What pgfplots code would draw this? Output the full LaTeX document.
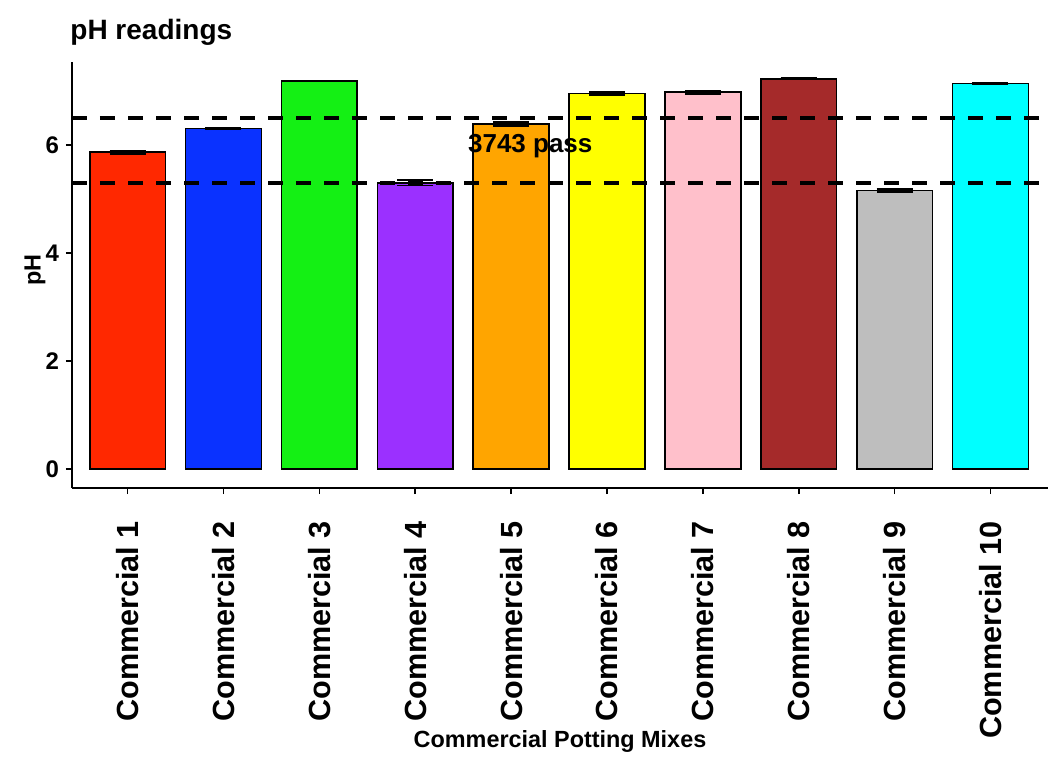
\documentclass[border=0pt]{standalone}
\usepackage{fontspec}
\setmainfont{Liberation Sans}
\usepackage{pgfplots}
\pgfplotsset{compat=1.18}
\definecolor{c1}{RGB}{255,40,0}
\definecolor{c2}{RGB}{10,50,255}
\definecolor{c3}{RGB}{20,240,20}
\definecolor{c4}{RGB}{155,48,255}
\definecolor{c5}{RGB}{255,165,0}
\definecolor{c6}{RGB}{255,255,0}
\definecolor{c7}{RGB}{255,192,203}
\definecolor{c8}{RGB}{165,42,42}
\definecolor{c9}{RGB}{190,190,190}
\definecolor{c10}{RGB}{0,255,255}
\begin{document}
\begin{tikzpicture}
\path[use as bounding box] (-36pt,-134pt) rectangle (488pt,244pt);
\begin{axis}[
  at={(0,0)}, anchor=south west,
  scale only axis, width=488pt, height=213pt,
  xmin=0.42, xmax=10.6, ymin=-0.35, ymax=7.54,
  axis x line*=bottom, axis y line*=left,
  axis line style={-, line width=1pt},
  ybar, bar width=0.79, bar shift=0pt,
  xtick={1,...,10},
  xticklabels={Commercial 1,Commercial 2,Commercial 3,Commercial 4,Commercial 5,Commercial 6,Commercial 7,Commercial 8,Commercial 9,Commercial 10},
  xticklabel style={rotate=90, anchor=east, xshift=-10pt, font=\bfseries\fontsize{15.3}{15.3}\selectfont},
  ytick={0,2,4,6}, yticklabels={0,2,4,6},
  yticklabel style={font=\bfseries\fontsize{12}{12}\selectfont},
  tick align=outside, major tick length=3pt,
  tick style={black, line width=0.8pt},
  every axis plot/.append style={draw=black, line width=0.8pt,
    error bars/y dir=both, error bars/y explicit,
    error bars/error bar style={line width=0.8pt, black},
    error bars/error mark options={line width=0.8pt, black, mark size=9pt, rotate=90}},
]
\addplot[fill=c1] coordinates {(1,5.87) +- (0,0.03)};
\addplot[fill=c2] coordinates {(2,6.31) +- (0,0.02)};
\addplot[fill=c3] coordinates {(3,7.19) +- (0,0.01)};
\addplot[fill=c4] coordinates {(4,5.30) +- (0,0.05)};
\addplot[fill=c5] coordinates {(5,6.39) +- (0,0.04)};
\addplot[fill=c6] coordinates {(6,6.96) +- (0,0.03)};
\addplot[fill=c7] coordinates {(7,6.98) +- (0,0.03)};
\addplot[fill=c8] coordinates {(8,7.23) +- (0,0.01)};
\addplot[fill=c9] coordinates {(9,5.16) +- (0,0.03)};
\addplot[fill=c10] coordinates {(10,7.14) +- (0,0.01)};
\addplot[sharp plot, no marks, draw=black, line width=1.8pt, dash pattern=on 7.5pt off 6.5pt, forget plot] coordinates {(0.42,6.5) (10.6,6.5)};
\addplot[sharp plot, no marks, draw=black, line width=1.8pt, dash pattern=on 7.5pt off 6.5pt, forget plot] coordinates {(0.42,5.3) (10.6,5.3)};
\node[font=\bfseries\fontsize{13}{13}\selectfont] at (axis cs:5.2,5.98) {3743 pass};
\end{axis}
\node[anchor=base west, inner sep=0pt, font=\bfseries\fontsize{14}{14}\selectfont] at (-1pt,224pt) {pH readings};
\node[anchor=base, inner sep=0pt, font=\bfseries\fontsize{11.7}{12}\selectfont] at (244pt,-129.5pt) {Commercial Potting Mixes};
\node[rotate=90, font=\bfseries\fontsize{11.7}{12}\selectfont] at (-18.5pt,109pt) {pH};
\end{tikzpicture}
\end{document}
